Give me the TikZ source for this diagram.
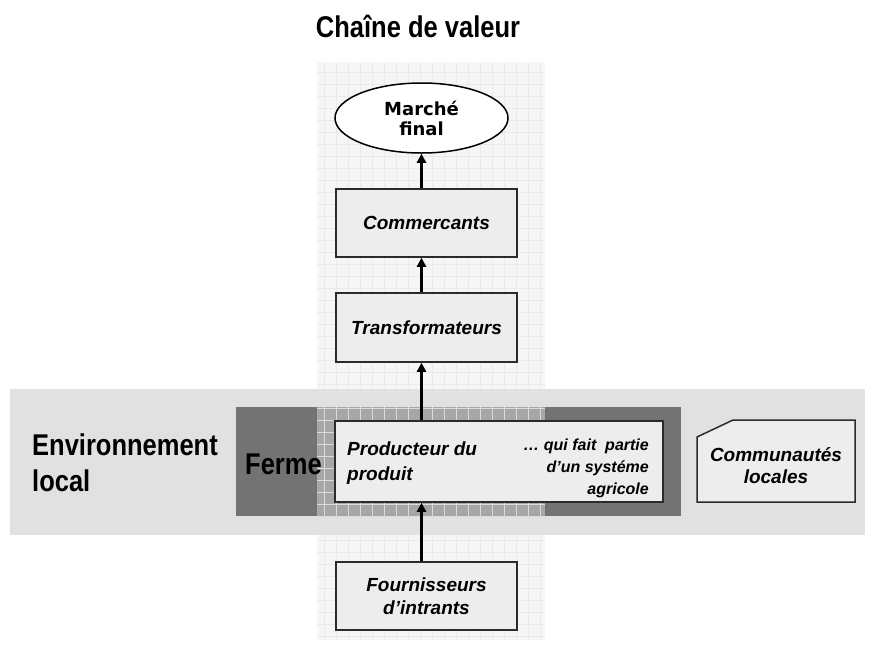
\documentclass[tikz,border=0pt]{standalone}
\usepackage{fontspec}
\setmainfont{Liberation Sans}
\newfontfamily\condfont[FakeStretch=0.85]{Liberation Sans}
\newfontfamily\widefont{DejaVu Sans}
\usepackage{xcolor}
\definecolor{mBand}{HTML}{E1E1E1}
\definecolor{mFarm}{HTML}{737373}
\definecolor{mHatch}{HTML}{A6A6A6}
\definecolor{mColumn}{HTML}{F6F6F6}
\definecolor{mGrid}{HTML}{EAEAEA}
\definecolor{mBoxFill}{HTML}{EDEDED}
\definecolor{mEdge}{HTML}{2B2B2B}
\usepackage{tikz}
\usetikzlibrary{positioning,arrows.meta,shapes.geometric}
\newcommand{\chainnode}[4]{%
 \node[draw=mEdge, fill=mBoxFill, line width=1.5pt, minimum width=181pt, minimum height=#3pt, align=center, font=\fontsize{19}{23}\selectfont\bfseries\itshape] (#1) at (426.5,#2) {#4};}
\tikzset{
 flow/.style={-{Triangle[length=9pt,width=9pt]}, line width=2.5pt, black},
 biglabel/.style={font=\condfont\bfseries\fontsize{30}{36}\selectfont, inner sep=0pt, align=left}
}

\begin{document}
\begin{tikzpicture}[x=1pt,y=-1pt]
\useasboundingbox (0,0) rectangle (875,646);
% value chain column and local band
\fill[mColumn] (317,62) rectangle (545,640);
\draw[mGrid, line width=0.7pt, step=12pt] (317,640) grid (545,62);
\fill[mBand] (10,389) rectangle (865,535);
\fill[mFarm] (236,407) rectangle (681,516);
\fill[mHatch] (317,407) rectangle (545,516);
\draw[white!60!mHatch, line width=0.8pt, step=12pt] (317,516) grid (545,407);
\node[biglabel, anchor=base] (title) at (418,37) {Chaîne de valeur};
\node[biglabel, anchor=base west] (envlabel) at (32,491) {Environnement\\local};
\node[biglabel, anchor=base west] (farmlabel) at (245,474) {Ferme};
% chain
\node[ellipse, draw=black, fill=white, line width=1.5pt, minimum width=173pt, minimum height=70pt, inner sep=0pt, align=center, font=\widefont\bfseries\fontsize{18}{20}\selectfont] (market) at (421.5,118) {Marché\\final};
\chainnode{trader}{223}{68}{Commercants}
\chainnode{processor}{327.5}{69}{Transformateurs}
\chainnode{supplier}{596}{68}{Fournisseurs\\d’intrants}
\node[draw=mEdge, fill=mBoxFill, line width=1.5pt, minimum width=328pt, minimum height=81pt] (producer) at (499,461.5) {};
\node[anchor=base west, align=left, inner sep=0pt, font=\fontsize{19}{25}\selectfont\bfseries\itshape] (prodtext) at (347,480) {Producteur du\\produit};
\node[anchor=base east, align=right, inner sep=0pt, font=\fontsize{16}{22}\selectfont\bfseries\itshape] (systext) at (649,494) {… qui fait~ partie\\d’un systéme\\agricole};
% local communities
\coordinate (commSW) at (697,502);
\coordinate (commNE) at (855,420);
\draw[draw=mEdge, fill=mBoxFill, line width=1.5pt] (commSW) -- (commSW |- 0,437) -- (733,420) -- (commNE) -- (commNE |- commSW) -- cycle;
\node[align=center, font=\fontsize{19}{22}\selectfont\bfseries\itshape] (community) at (776,466) {Communautés\\locales};
\draw[flow] (supplier.north -| market) -- (producer.south -| market);
\draw[flow] (producer.north -| market) -- (processor.south -| market);
\draw[flow] (processor.north -| market) -- (trader.south -| market);
\draw[flow] (trader.north -| market) -- (market.south);
\end{tikzpicture}
\end{document}
